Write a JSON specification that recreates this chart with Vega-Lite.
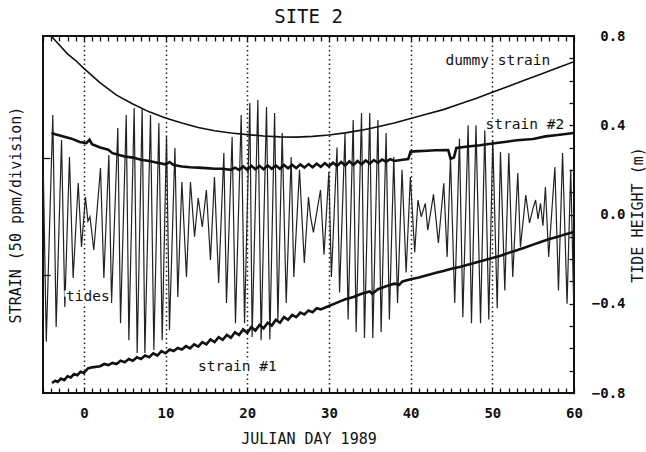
{
  "$schema": "https://vega.github.io/schema/vega-lite/v6.json",
  "width": 531,
  "height": 357,
  "autosize": "none",
  "padding": {"left": 43, "top": 36, "right": 72, "bottom": 59},
  "background": "white",
  "title": {"text": "SITE 2", "font": "DejaVu Sans Mono", "fontSize": 19, "fontWeight": "normal", "color": "#111", "anchor": "middle", "offset": 2},
  "resolve": {"axis": {"x": "independent", "y": "independent"}},
  "config": {
    "view": {"stroke": "#111", "strokeWidth": 2},
    "axis": {"labelFont": "DejaVu Sans Mono", "titleFont": "DejaVu Sans Mono", "labelColor": "#111", "titleColor": "#111", "tickColor": "#111", "tickWidth": 1.3, "titleFontWeight": "normal", "labelFontWeight": "bold", "labelFontSize": 14, "titleFontSize": 15}
  },
  "datasets": {
    "tide": [
      {"day": -4.95, "v": 0.17}, {"day": -4.6, "v": -0.57}, {"day": -3.8, "v": 0.446}, {"day": -3.39, "v": -0.504},
      {"day": -2.73, "v": 0.334}, {"day": -2.33, "v": -0.415}, {"day": -1.76, "v": 0.258}, {"day": -1.31, "v": -0.285},
      {"day": -0.69, "v": 0.141}, {"day": -0.29, "v": -0.146}, {"day": 0.2, "v": 0.078}, {"day": 0.5, "v": -0.03},
      {"day": 0.75, "v": -0.01}, {"day": 1.22, "v": -0.159}, {"day": 2.04, "v": 0.208}, {"day": 2.45, "v": -0.285},
      {"day": 3.06, "v": 0.267}, {"day": 3.39, "v": -0.397}, {"day": 4.16, "v": 0.388}, {"day": 4.49, "v": -0.487},
      {"day": 5.19, "v": 0.446}, {"day": 5.51, "v": -0.563}, {"day": 6.16, "v": 0.477}, {"day": 6.53, "v": -0.621},
      {"day": 7.14, "v": 0.477}, {"day": 7.47, "v": -0.621}, {"day": 8.16, "v": 0.446}, {"day": 8.57, "v": -0.607},
      {"day": 9.18, "v": 0.41}, {"day": 9.59, "v": -0.563}, {"day": 10.12, "v": 0.347}, {"day": 10.48, "v": -0.518},
      {"day": 11.15, "v": 0.298}, {"day": 11.5, "v": -0.37}, {"day": 12.0, "v": 0.146}, {"day": 12.56, "v": -0.28},
      {"day": 13.05, "v": 0.146}, {"day": 13.55, "v": -0.1}, {"day": 14.0, "v": 0.074}, {"day": 14.5, "v": -0.056},
      {"day": 15.0, "v": 0.11}, {"day": 15.5, "v": -0.204}, {"day": 15.99, "v": 0.168}, {"day": 16.5, "v": -0.307},
      {"day": 17.14, "v": 0.276}, {"day": 17.46, "v": -0.397}, {"day": 18.15, "v": 0.347}, {"day": 18.56, "v": -0.487},
      {"day": 19.26, "v": 0.446}, {"day": 19.67, "v": -0.487}, {"day": 20.32, "v": 0.5}, {"day": 20.6, "v": -0.549},
      {"day": 21.3, "v": 0.513}, {"day": 21.7, "v": -0.563}, {"day": 22.36, "v": 0.482}, {"day": 22.77, "v": -0.56},
      {"day": 23.35, "v": 0.455}, {"day": 23.75, "v": -0.473}, {"day": 24.28, "v": 0.365}, {"day": 24.77, "v": -0.397},
      {"day": 25.38, "v": 0.258}, {"day": 25.7, "v": -0.28}, {"day": 26.4, "v": 0.2}, {"day": 26.99, "v": -0.217},
      {"day": 27.5, "v": 0.078}, {"day": 27.75, "v": -0.01}, {"day": 28.1, "v": -0.08}, {"day": 28.97, "v": 0.11},
      {"day": 29.4, "v": -0.18}, {"day": 29.99, "v": 0.19}, {"day": 30.3, "v": -0.28}, {"day": 30.99, "v": 0.3},
      {"day": 31.3, "v": -0.35}, {"day": 31.97, "v": 0.365}, {"day": 32.35, "v": -0.47}, {"day": 32.97, "v": 0.424},
      {"day": 33.33, "v": -0.527}, {"day": 33.99, "v": 0.455}, {"day": 34.35, "v": -0.553}, {"day": 35.0, "v": 0.455},
      {"day": 35.37, "v": -0.553}, {"day": 36.0, "v": 0.424}, {"day": 36.39, "v": -0.527}, {"day": 37.0, "v": 0.365},
      {"day": 37.4, "v": -0.47}, {"day": 37.94, "v": 0.258}, {"day": 38.4, "v": -0.397}, {"day": 38.95, "v": 0.2},
      {"day": 39.45, "v": -0.26}, {"day": 39.97, "v": 0.168}, {"day": 40.5, "v": -0.17}, {"day": 40.9, "v": 0.065},
      {"day": 41.3, "v": -0.01}, {"day": 41.8, "v": 0.05}, {"day": 42.1, "v": -0.07}, {"day": 42.8, "v": 0.09},
      {"day": 43.4, "v": -0.128}, {"day": 44.06, "v": 0.14}, {"day": 44.47, "v": -0.19}, {"day": 44.88, "v": 0.258},
      {"day": 45.4, "v": -0.397}, {"day": 45.98, "v": 0.34}, {"day": 46.39, "v": -0.46}, {"day": 47.04, "v": 0.4},
      {"day": 47.45, "v": -0.487}, {"day": 48.0, "v": 0.4}, {"day": 48.56, "v": -0.487}, {"day": 49.08, "v": 0.38},
      {"day": 49.57, "v": -0.47}, {"day": 50.06, "v": 0.334}, {"day": 50.6, "v": -0.42}, {"day": 51.0, "v": 0.28},
      {"day": 51.53, "v": -0.34}, {"day": 52.02, "v": 0.276}, {"day": 52.5, "v": -0.28}, {"day": 53.12, "v": 0.186},
      {"day": 53.44, "v": -0.146}, {"day": 54.1, "v": 0.087}, {"day": 54.55, "v": -0.038}, {"day": 55.0, "v": 0.03},
      {"day": 55.3, "v": 0.065}, {"day": 55.6, "v": -0.02}, {"day": 55.9, "v": 0.05}, {"day": 56.2, "v": -0.05},
      {"day": 56.5, "v": 0.123}, {"day": 56.9, "v": -0.19}, {"day": 57.66, "v": 0.213}, {"day": 58.1, "v": -0.34},
      {"day": 58.6, "v": 0.276}, {"day": 59.15, "v": -0.4}, {"day": 59.6, "v": 0.2}, {"day": 59.95, "v": -0.38}
    ],
    "dummy": [
      {"day": -4.0, "v": 0.8}, {"day": -3, "v": 0.76}, {"day": -2, "v": 0.72}, {"day": -1, "v": 0.69}, {"day": 0, "v": 0.655},
      {"day": 2, "v": 0.59}, {"day": 4, "v": 0.535}, {"day": 6, "v": 0.495}, {"day": 8, "v": 0.46}, {"day": 10, "v": 0.432},
      {"day": 12, "v": 0.41}, {"day": 14, "v": 0.39}, {"day": 16, "v": 0.375}, {"day": 18, "v": 0.365}, {"day": 20, "v": 0.358},
      {"day": 22, "v": 0.352}, {"day": 24, "v": 0.348}, {"day": 26, "v": 0.347}, {"day": 28, "v": 0.35}, {"day": 30, "v": 0.356},
      {"day": 32, "v": 0.366}, {"day": 34, "v": 0.378}, {"day": 36, "v": 0.393}, {"day": 38, "v": 0.41}, {"day": 40, "v": 0.43},
      {"day": 42, "v": 0.45}, {"day": 44, "v": 0.47}, {"day": 46, "v": 0.495}, {"day": 48, "v": 0.52}, {"day": 50, "v": 0.548},
      {"day": 52, "v": 0.575}, {"day": 54, "v": 0.603}, {"day": 56, "v": 0.63}, {"day": 58, "v": 0.658}, {"day": 60, "v": 0.685}
    ],
    "s1": [
      {"day": -3.9, "v": -0.755}, {"day": -3.5, "v": -0.745}, {"day": -3.2, "v": -0.75}, {"day": -2.8, "v": -0.735},
      {"day": -2.4, "v": -0.742}, {"day": -2.0, "v": -0.725}, {"day": -1.6, "v": -0.73}, {"day": -1.2, "v": -0.715},
      {"day": -0.8, "v": -0.72}, {"day": -0.4, "v": -0.705}, {"day": 0, "v": -0.71}, {"day": 0.5, "v": -0.69},
      {"day": 1.0, "v": -0.685}, {"day": 2.0, "v": -0.68}, {"day": 2.5, "v": -0.67}, {"day": 3.0, "v": -0.675},
      {"day": 3.5, "v": -0.665}, {"day": 4.0, "v": -0.67}, {"day": 4.5, "v": -0.655}, {"day": 5.0, "v": -0.662},
      {"day": 5.5, "v": -0.648}, {"day": 6.0, "v": -0.655}, {"day": 6.5, "v": -0.64}, {"day": 7.0, "v": -0.648},
      {"day": 7.5, "v": -0.632}, {"day": 8.0, "v": -0.64}, {"day": 8.5, "v": -0.622}, {"day": 9.0, "v": -0.632},
      {"day": 9.5, "v": -0.612}, {"day": 10.0, "v": -0.622}, {"day": 10.5, "v": -0.605}, {"day": 11.0, "v": -0.612},
      {"day": 11.5, "v": -0.598}, {"day": 12.0, "v": -0.605}, {"day": 12.5, "v": -0.59}, {"day": 13.0, "v": -0.6},
      {"day": 13.5, "v": -0.582}, {"day": 14.0, "v": -0.592}, {"day": 14.5, "v": -0.572}, {"day": 15.0, "v": -0.582},
      {"day": 15.5, "v": -0.56}, {"day": 16.0, "v": -0.572}, {"day": 16.5, "v": -0.55}, {"day": 17.0, "v": -0.562},
      {"day": 17.5, "v": -0.54}, {"day": 18.0, "v": -0.552}, {"day": 18.5, "v": -0.528}, {"day": 19.0, "v": -0.54},
      {"day": 19.5, "v": -0.515}, {"day": 20.0, "v": -0.53}, {"day": 20.5, "v": -0.505}, {"day": 21.0, "v": -0.52},
      {"day": 21.5, "v": -0.495}, {"day": 22.0, "v": -0.51}, {"day": 22.5, "v": -0.485}, {"day": 23.0, "v": -0.498},
      {"day": 23.5, "v": -0.472}, {"day": 24.0, "v": -0.485}, {"day": 24.5, "v": -0.46}, {"day": 25.0, "v": -0.472},
      {"day": 25.5, "v": -0.45}, {"day": 26.0, "v": -0.46}, {"day": 26.5, "v": -0.44}, {"day": 27.0, "v": -0.448},
      {"day": 27.5, "v": -0.43}, {"day": 28.0, "v": -0.438}, {"day": 28.5, "v": -0.42}, {"day": 29.0, "v": -0.425},
      {"day": 30, "v": -0.41}, {"day": 31, "v": -0.395}, {"day": 32, "v": -0.38}, {"day": 33, "v": -0.37},
      {"day": 34, "v": -0.355}, {"day": 35, "v": -0.345}, {"day": 35.3, "v": -0.355}, {"day": 36, "v": -0.335},
      {"day": 37, "v": -0.322}, {"day": 38, "v": -0.31}, {"day": 38.6, "v": -0.315}, {"day": 39, "v": -0.3},
      {"day": 40, "v": -0.29}, {"day": 41, "v": -0.282}, {"day": 42, "v": -0.272}, {"day": 43, "v": -0.262},
      {"day": 44, "v": -0.253}, {"day": 45, "v": -0.243}, {"day": 46, "v": -0.235}, {"day": 47, "v": -0.225},
      {"day": 48, "v": -0.215}, {"day": 49, "v": -0.205}, {"day": 50, "v": -0.195}, {"day": 51, "v": -0.185},
      {"day": 52, "v": -0.172}, {"day": 53, "v": -0.16}, {"day": 54, "v": -0.148}, {"day": 55, "v": -0.135},
      {"day": 56, "v": -0.122}, {"day": 57, "v": -0.11}, {"day": 58, "v": -0.1}, {"day": 59, "v": -0.088}, {"day": 60, "v": -0.078}
    ],
    "s2": [
      {"day": -3.95, "v": 0.365}, {"day": -3.5, "v": 0.36}, {"day": -2.5, "v": 0.35}, {"day": -1.5, "v": 0.34},
      {"day": -0.5, "v": 0.325}, {"day": 0.3, "v": 0.32}, {"day": 0.7, "v": 0.335}, {"day": 1.0, "v": 0.315},
      {"day": 2, "v": 0.3}, {"day": 3, "v": 0.29}, {"day": 3.5, "v": 0.275}, {"day": 4, "v": 0.27}, {"day": 5, "v": 0.26},
      {"day": 6, "v": 0.255}, {"day": 7, "v": 0.245}, {"day": 8, "v": 0.24}, {"day": 9, "v": 0.232}, {"day": 10, "v": 0.225},
      {"day": 10.5, "v": 0.235}, {"day": 11, "v": 0.222}, {"day": 12, "v": 0.215}, {"day": 13, "v": 0.212}, {"day": 14, "v": 0.21},
      {"day": 15, "v": 0.208}, {"day": 16, "v": 0.205}, {"day": 17, "v": 0.205}, {"day": 18, "v": 0.2}, {"day": 18.5, "v": 0.21},
      {"day": 19, "v": 0.2}, {"day": 19.5, "v": 0.215}, {"day": 20, "v": 0.2}, {"day": 20.5, "v": 0.218}, {"day": 21, "v": 0.203},
      {"day": 21.5, "v": 0.218}, {"day": 22, "v": 0.203}, {"day": 22.5, "v": 0.22}, {"day": 23, "v": 0.205}, {"day": 23.5, "v": 0.22},
      {"day": 24, "v": 0.205}, {"day": 24.5, "v": 0.222}, {"day": 25, "v": 0.207}, {"day": 25.5, "v": 0.222}, {"day": 26, "v": 0.208},
      {"day": 26.5, "v": 0.224}, {"day": 27, "v": 0.21}, {"day": 27.5, "v": 0.226}, {"day": 28, "v": 0.212}, {"day": 28.5, "v": 0.228},
      {"day": 29, "v": 0.214}, {"day": 29.5, "v": 0.23}, {"day": 30, "v": 0.216}, {"day": 30.5, "v": 0.232}, {"day": 31, "v": 0.218},
      {"day": 31.5, "v": 0.235}, {"day": 32, "v": 0.22}, {"day": 32.5, "v": 0.238}, {"day": 33, "v": 0.222}, {"day": 33.5, "v": 0.24},
      {"day": 34, "v": 0.225}, {"day": 34.5, "v": 0.242}, {"day": 35, "v": 0.228}, {"day": 35.5, "v": 0.244}, {"day": 36, "v": 0.232},
      {"day": 36.5, "v": 0.246}, {"day": 37, "v": 0.236}, {"day": 37.5, "v": 0.248}, {"day": 38, "v": 0.24}, {"day": 39, "v": 0.245},
      {"day": 39.7, "v": 0.248}, {"day": 40, "v": 0.282},
      {"day": 41, "v": 0.284}, {"day": 42, "v": 0.286}, {"day": 43, "v": 0.288}, {"day": 44.6, "v": 0.289}, {"day": 44.9, "v": 0.25},
      {"day": 45.3, "v": 0.255}, {"day": 45.6, "v": 0.298}, {"day": 47, "v": 0.305}, {"day": 48.5, "v": 0.31}, {"day": 50, "v": 0.318},
      {"day": 51.5, "v": 0.325}, {"day": 53, "v": 0.333}, {"day": 55, "v": 0.338}, {"day": 56.5, "v": 0.35}, {"day": 58, "v": 0.356},
      {"day": 60, "v": 0.365}
    ],
    "labels": [
      {"day": 50.67, "v": 0.688, "text": "dummy strain"},
      {"day": 53.98, "v": 0.4, "text": "strain #2"},
      {"day": 0.49, "v": -0.37, "text": "tides"},
      {"day": 18.79, "v": -0.683, "text": "strain #1"}
    ]
  },
  "layer": [
    {
      "data": {"name": "tide"},
      "mark": {"type": "line", "color": "#222", "strokeWidth": 1.2, "clip": true},
      "encoding": {
        "x": {"field": "day", "type": "quantitative", "scale": {"domain": [-5, 60], "nice": false, "zero": false},
          "axis": {"orient": "bottom", "values": [-5,-4,-3,-2,-1,0,1,2,3,4,5,6,7,8,9,10,11,12,13,14,15,16,17,18,19,20,21,22,23,24,25,26,27,28,29,30,31,32,33,34,35,36,37,38,39,40,41,42,43,44,45,46,47,48,49,50,51,52,53,54,55,56,57,58,59,60],
            "ticks": false, "labelPadding": 13, "labelExpr": "datum.value % 10 === 0 ? datum.label : ''", "labelFlush": false, "labelOverlap": false,
            "domain": false, "grid": true, "gridColor": "#222", "gridDash": [1.5, 3], "gridWidth": 1.5,
            "gridOpacity": {"condition": {"test": "datum.value % 10 === 0 && datum.value > -5 && datum.value < 60", "value": 1}, "value": 0},
            "title": "JULIAN DAY 1989", "titlePadding": 11}},
        "y": {"field": "v", "type": "quantitative", "scale": {"domain": [-0.8, 0.8], "nice": false, "zero": false},
          "axis": {"orient": "right", "values": [-0.8,-0.7,-0.6,-0.5,-0.4,-0.3,-0.2,-0.1,0,0.1,0.2,0.3,0.4,0.5,0.6,0.7,0.8],
            "ticks": false, "format": ".1f", "labelAlign": "right", "labelPadding": 51,
            "labelExpr": "abs(round(datum.value * 10)) % 4 === 0 ? datum.label : ''", "labelOverlap": false, "labelFlush": false,
            "domain": false, "grid": false, "title": "TIDE HEIGHT (m)", "titleAngle": 270, "titleBaseline": "top", "titlePadding": 5}}
      }
    },
    {
      "data": {"name": "dummy"},
      "mark": {"type": "line", "color": "#111", "strokeWidth": 1.6, "clip": true},
      "encoding": {
        "x": {"field": "day", "type": "quantitative", "scale": {"domain": [-5, 60], "nice": false, "zero": false},
          "axis": {"orient": "top", "values": [-5,-4,-3,-2,-1,0,1,2,3,4,5,6,7,8,9,10,11,12,13,14,15,16,17,18,19,20,21,22,23,24,25,26,27,28,29,30,31,32,33,34,35,36,37,38,39,40,41,42,43,44,45,46,47,48,49,50,51,52,53,54,55,56,57,58,59,60],
            "tickSize": -5, "labels": false, "domain": false, "grid": false, "title": null}},
        "y": {"field": "v", "type": "quantitative", "scale": {"domain": [-0.8, 0.8], "nice": false, "zero": false},
          "axis": {"orient": "left", "values": [0.255, -0.27], "tickSize": -7, "labels": false, "domain": false, "grid": false,
            "title": "STRAIN (50 ppm/division)", "titlePadding": 19}}
      }
    },
    {
      "data": {"name": "s1"},
      "mark": {"type": "line", "color": "#111", "strokeWidth": 2.6, "clip": true},
      "encoding": {
        "x": {"field": "day", "type": "quantitative", "scale": {"domain": [-5, 60], "nice": false, "zero": false},
          "axis": {"orient": "bottom", "values": [-5,-4,-3,-2,-1,0,1,2,3,4,5,6,7,8,9,10,11,12,13,14,15,16,17,18,19,20,21,22,23,24,25,26,27,28,29,30,31,32,33,34,35,36,37,38,39,40,41,42,43,44,45,46,47,48,49,50,51,52,53,54,55,56,57,58,59,60],
            "tickSize": -5, "labels": false, "domain": false, "grid": false, "title": null}},
        "y": {"field": "v", "type": "quantitative", "scale": {"domain": [-0.8, 0.8], "nice": false, "zero": false},
          "axis": {"orient": "right", "values": [-0.8,-0.7,-0.6,-0.5,-0.4,-0.3,-0.2,-0.1,0,0.1,0.2,0.3,0.4,0.5,0.6,0.7,0.8],
            "tickSize": -5, "labels": false, "domain": false, "grid": false, "title": null}}
      }
    },
    {
      "data": {"name": "s2"},
      "mark": {"type": "line", "color": "#111", "strokeWidth": 2.6, "clip": true},
      "encoding": {
        "x": {"field": "day", "type": "quantitative", "scale": {"domain": [-5, 60], "nice": false, "zero": false}, "axis": null},
        "y": {"field": "v", "type": "quantitative", "scale": {"domain": [-0.8, 0.8], "nice": false, "zero": false}, "axis": null}
      }
    },
    {
      "data": {"name": "labels"},
      "mark": {"type": "text", "font": "DejaVu Sans Mono", "fontSize": 14.5, "align": "center", "baseline": "middle", "stroke": "white", "strokeWidth": 5, "fill": "white"},
      "encoding": {
        "x": {"field": "day", "type": "quantitative", "scale": {"domain": [-5, 60], "nice": false, "zero": false}, "axis": null},
        "y": {"field": "v", "type": "quantitative", "scale": {"domain": [-0.8, 0.8], "nice": false, "zero": false}, "axis": null},
        "text": {"field": "text"}
      }
    },
    {
      "data": {"name": "labels"},
      "mark": {"type": "text", "font": "DejaVu Sans Mono", "fontSize": 14.5, "align": "center", "baseline": "middle", "color": "#111"},
      "encoding": {
        "x": {"field": "day", "type": "quantitative", "scale": {"domain": [-5, 60], "nice": false, "zero": false}, "axis": null},
        "y": {"field": "v", "type": "quantitative", "scale": {"domain": [-0.8, 0.8], "nice": false, "zero": false}, "axis": null},
        "text": {"field": "text"}
      }
    }
  ]
}
